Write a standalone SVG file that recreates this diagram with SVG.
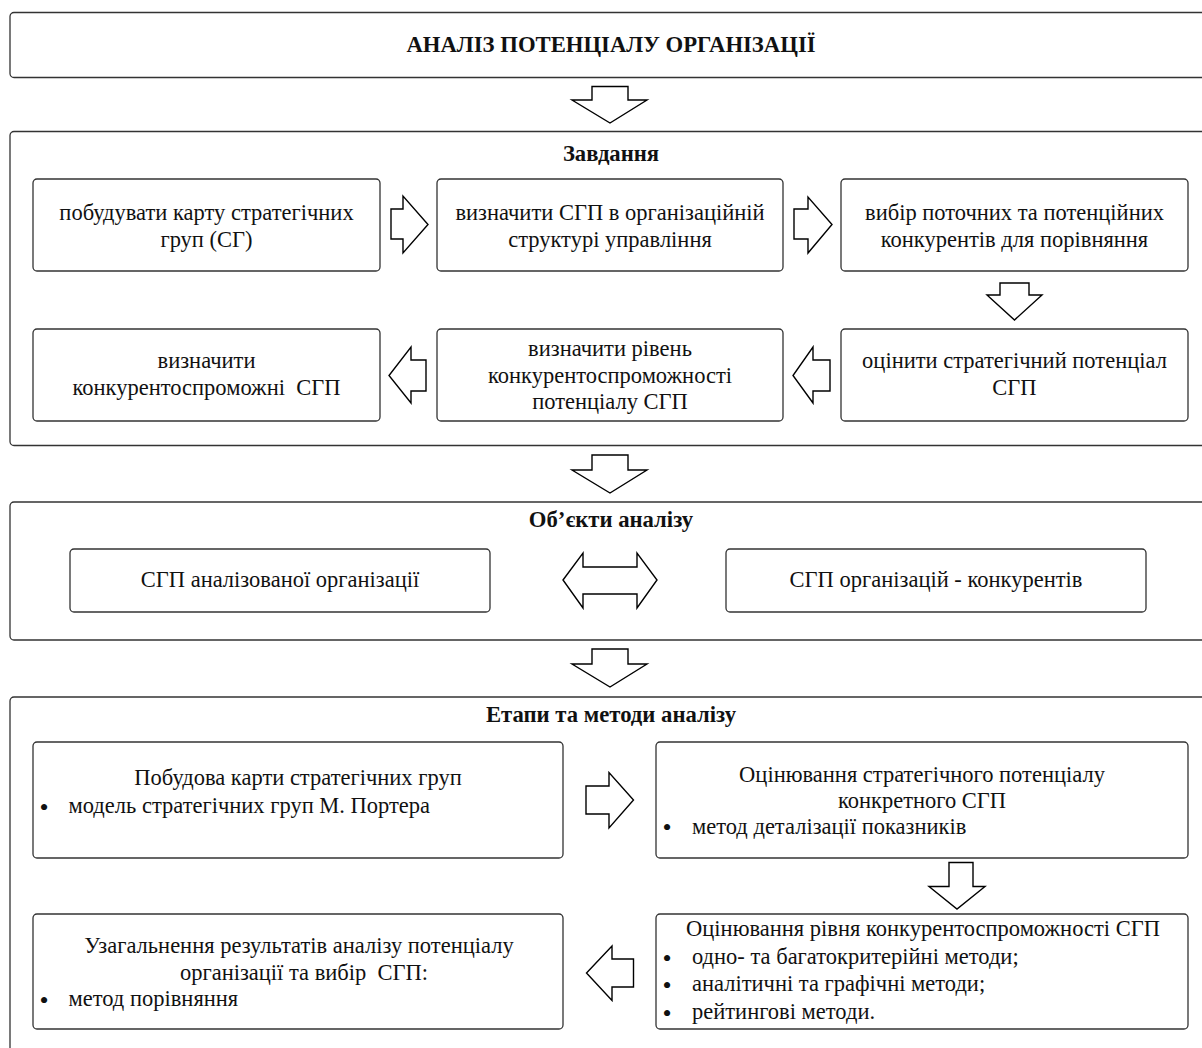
<svg xmlns="http://www.w3.org/2000/svg" width="1202" height="1048" viewBox="0 0 1202 1048">
<style>
.frame{fill:#fff;stroke:#333;stroke-width:1.3}
.box{fill:#fff;stroke:#333;stroke-width:1.3}
.arr{fill:#fff;stroke:#000;stroke-width:1.4;stroke-linejoin:miter}
text{font-family:"Liberation Serif","Times New Roman",serif;fill:#111}
.h{font-weight:bold;font-size:22.7px;text-anchor:middle}
.t{font-size:22.5px;text-anchor:middle}
.l{font-size:22.5px}
.b{font-size:26px;text-anchor:middle}
.pre{white-space:pre}
</style>
<rect width="1202" height="1048" fill="#fff"/>
<g id="frames">
<rect id="title" class="frame" x="10" y="12.5" width="1210" height="65" rx="4"/>
<rect id="sec-tasks" class="frame" x="10" y="131.5" width="1210" height="314" rx="4"/>
<rect id="sec-objects" class="frame" x="10" y="502" width="1210" height="138" rx="4"/>
<rect id="sec-stages" class="frame" x="10" y="697" width="1210" height="380" rx="4"/>
</g>
<text class="h" x="611" y="52">АНАЛІЗ ПОТЕНЦІАЛУ ОРГАНІЗАЦІЇ</text>
<text class="h" x="611" y="161">Завдання</text>
<text class="h" x="611" y="527">Об’єкти аналізу</text>
<text class="h" x="611" y="722">Етапи та методи аналізу</text>

<g id="t1"><rect class="box" x="33" y="179" width="347" height="92" rx="4"/>
<text class="t" x="206.5" y="219.5">побудувати карту стратегічних</text>
<text class="t" x="206.5" y="246.5">груп (СГ)</text></g>
<g id="t2"><rect class="box" x="437" y="179" width="346" height="92" rx="4"/>
<text class="t" x="610" y="219.5">визначити СГП в організаційній</text>
<text class="t" x="610" y="246.5">структурі управління</text></g>
<g id="t3"><rect class="box" x="841" y="179" width="347" height="92" rx="4"/>
<text class="t" x="1014.5" y="219.5">вибір поточних та потенційних</text>
<text class="t" x="1014.5" y="246.5">конкурентів для порівняння</text></g>
<g id="t6"><rect class="box" x="841" y="329" width="347" height="92" rx="4"/>
<text class="t" x="1014.5" y="368">оцінити стратегічний потенціал</text>
<text class="t" x="1014.5" y="394.5">СГП</text></g>
<g id="t5"><rect class="box" x="437" y="329" width="346" height="92" rx="4"/>
<text class="t" x="610" y="356">визначити рівень</text>
<text class="t" x="610" y="382.5">конкурентоспроможності</text>
<text class="t" x="610" y="409">потенціалу СГП</text></g>
<g id="t4"><rect class="box" x="33" y="329" width="347" height="92" rx="4"/>
<text class="t" x="206.5" y="368">визначити</text>
<text class="t pre" x="206.5" y="394.5" xml:space="preserve">конкурентоспроможні  СГП</text></g>

<g id="o1"><rect class="box" x="70" y="549" width="420" height="63" rx="4"/>
<text class="t" x="280" y="587">СГП аналізованої організації</text></g>
<g id="o2"><rect class="box" x="726" y="549" width="420" height="63" rx="4"/>
<text class="t" x="936" y="587">СГП організацій - конкурентів</text></g>

<g id="s1"><rect class="box" x="33" y="742" width="530" height="116" rx="4"/>
<text class="t" x="298" y="785">Побудова карти стратегічних груп</text>
<text class="b" x="44" y="816">•</text>
<text class="l" x="68.5" y="813">модель стратегічних груп М. Портера</text></g>
<g id="s2"><rect class="box" x="656" y="742" width="532" height="116" rx="4"/>
<text class="t" x="922" y="782">Оцінювання стратегічного потенціалу</text>
<text class="t" x="922" y="808">конкретного СГП</text>
<text class="b" x="667" y="836">•</text>
<text class="l" x="692" y="833.5">метод деталізації показників</text></g>
<g id="s3"><rect class="box" x="656" y="914" width="532" height="115" rx="4"/>
<text class="t" x="923" y="936">Оцінювання рівня конкурентоспроможності СГП</text>
<text class="b" x="667" y="966.5">•</text>
<text class="l" x="692" y="963.5">одно- та багатокритерійні методи;</text>
<text class="b" x="667" y="994">•</text>
<text class="l" x="692" y="991">аналітичні та графічні методи;</text>
<text class="b" x="667" y="1021.5">•</text>
<text class="l" x="692" y="1018.5">рейтингові методи.</text></g>
<g id="s4"><rect class="box" x="33" y="914" width="530" height="115" rx="4"/>
<text class="t" x="299" y="953">Узагальнення результатів аналізу потенціалу</text>
<text class="t pre" x="304" y="980" xml:space="preserve">організації та вибір  СГП:</text>
<text class="b" x="44" y="1009">•</text>
<text class="l" x="68.5" y="1006">метод порівняння</text></g>

<g id="connectors">
<polygon class="arr" points="592,86.5 628,86.5 628,100 647,100 610,123 572,100 592,100"/>
<polygon class="arr" points="592,455 628,455 628,470 647,470 610,493 572,470 592,470"/>
<polygon class="arr" points="592,649 628,649 628,664 647,664 610,687 572,664 592,664"/>
<polygon class="arr" points="391,209 403,209 403,196 428,224.5 403,253 403,239 391,239"/>
<polygon class="arr" points="794,209 808,209 808,197 832,224.5 808,253 808,239 794,239"/>
<polygon class="arr" points="1000,283 1029,283 1029,295 1042,295 1014.5,320 987,295 1000,295"/>
<polygon class="arr" points="830,360 813,360 813,347 793,375.5 813,403 813,391 830,391"/>
<polygon class="arr" points="426,360 411,360 411,347 389,375.5 411,403 411,391 426,391"/>
<polygon class="arr" points="563,580 583,553 583,567 637,567 637,553 657,580 637,608 637,594 583,594 583,608"/>
<polygon class="arr" points="586,786 609,786 609,772.5 633.5,800 609,828 609,814 586,814"/>
<polygon class="arr" points="949,862.5 973,862.5 973,886.5 985,886.5 957,909 929,886.5 949,886.5"/>
<polygon class="arr" points="633.5,959 612,959 612,946 586.5,973 612,1000.5 612,987 633.5,987"/>
</g>
</svg>
